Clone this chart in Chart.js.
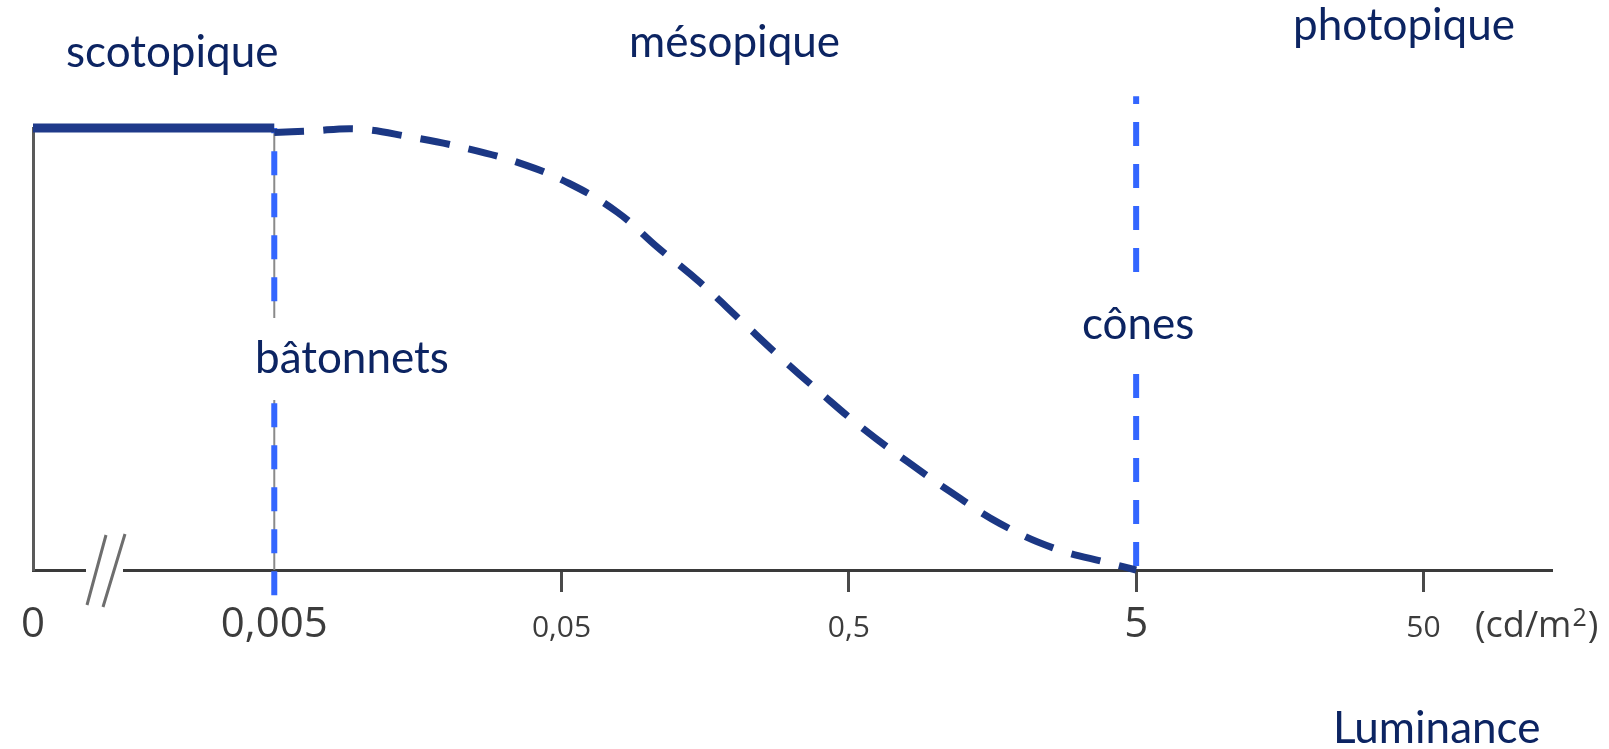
<!DOCTYPE html>
<html>
<head>
<meta charset="utf-8">
<title>Vision scotopique / mésopique / photopique</title>
<script src="https://cdn.jsdelivr.net/npm/chart.js"></script>
<style>
  html, body { margin: 0; padding: 0; background: #ffffff; }
  #visionChart { display: block; }
</style>
</head>
<body>
<canvas id="visionChart" width="1609" height="749"></canvas>
<script>
  // Luminance ticks (cd/m2) - "0" sits after the axis break
  var tickValues = [0, 0.005, 0.05, 0.5, 5, 50];
  var tickLabels = ["0", "0,005", "0,05", "0,5", "5", "50"];
  var tickBig = [true, true, false, false, true, false];

  // where the broken "0" and the end of the axis land on the log scale
  var axisZero = 0.000723;
  var axisMax = 139;

  // scotopic plateau (rods only)
  var scotoLum = [0, 0.005];
  var scotoSens = [1, 1];

  // mesopic curve
  var mesoLum = [0.005, 0.0066, 0.0097, 0.0148, 0.023, 0.036, 0.053, 0.078, 0.108, 0.152,
                 0.21, 0.29, 0.40, 0.56, 0.80, 1.14, 1.68, 2.57, 4.06, 5];
  var mesoSens = [0.99, 0.993, 0.998, 0.98, 0.955, 0.92, 0.875, 0.81, 0.73, 0.65,
                  0.565, 0.48, 0.40, 0.32, 0.245, 0.175, 0.105, 0.05, 0.015, 0];

  // vertical limits: rods (bâtonnets) and cones (cônes)
  var rodsLum = [0.005, 0.005];
  var rodsSens = [-0.057, 1];
  var conesLum = [5, 5];
  var conesSens = [0, 1.072];

  function pts(xs, ys) {
    return xs.map(function (x, i) { return { x: x === 0 ? axisZero : x, y: ys[i] }; });
  }

  var navy = '#0c2462';
  var labelFont = 'Lato, "Noto Sans", sans-serif';
  var tickFont = '"Open Sans", "Noto Sans", sans-serif';

  // text labels (left x, baseline y) and white boxes that cut the dashed lines
  var labels = [
    { text: 'scotopique', x: 66, y: 67 },
    { text: 'mésopique', x: 629, y: 57 },
    { text: 'photopique', x: 1293, y: 40 },
    { text: 'bâtonnets', x: 255, y: 373, box: [318, 400] },
    { text: 'cônes', x: 1082, y: 339, box: [275, 362] },
    { text: 'Luminance', x: 1333, y: 743 }
  ];

  var decorPlugin = {
    id: 'decor',
    afterDatasetsDraw: function (chart) {
      var c = chart.ctx;
      var area = chart.chartArea;
      var xs = chart.scales.x;
      c.save();

      // axis break "//"
      c.fillStyle = '#ffffff';
      c.fillRect(area.left + 53, area.bottom - 4, 37, 8);
      c.strokeStyle = '#6e6e6e';
      c.lineWidth = 3;
      c.beginPath();
      c.moveTo(area.left + 54, area.bottom + 35);
      c.lineTo(area.left + 73, area.bottom - 35);
      c.moveTo(area.left + 70, area.bottom + 37);
      c.lineTo(area.left + 92, area.bottom - 36);
      c.stroke();

      // tick labels, baseline aligned
      c.fillStyle = '#3c3c3c';
      c.textAlign = 'center';
      c.textBaseline = 'alphabetic';
      tickValues.forEach(function (v, i) {
        var px = xs.getPixelForValue(v === 0 ? axisZero : v);
        c.font = (tickBig[i] ? '500 42px ' : '500 30px ') + tickFont;
        c.fillText(tickLabels[i], px, area.bottom + 67);
      });

      // unit
      c.textAlign = 'left';
      c.font = '500 36px ' + tickFont;
      var ux = 1475, uy = area.bottom + 67;
      c.fillText('(cd/m', ux, uy);
      ux += c.measureText('(cd/m').width + 1;
      c.font = '500 25px ' + tickFont;
      c.fillText('2', ux, uy - 11);
      ux += c.measureText('2').width + 1;
      c.font = '500 36px ' + tickFont;
      c.fillText(')', ux, uy);

      // navy labels
      c.font = '44px ' + labelFont;
      labels.forEach(function (l) {
        var w = c.measureText(l.text).width;
        if (l.box) {
          c.fillStyle = '#ffffff';
          c.fillRect(l.x - 6, l.box[0], w + 12, l.box[1] - l.box[0]);
        }
        c.fillStyle = navy;
        c.fillText(l.text, l.x, l.y);
      });
      c.restore();
    }
  };

  var ctx = document.getElementById('visionChart').getContext('2d');
  var myChart = new Chart(ctx, {
    type: 'line',
    data: {
      datasets: [
        {
          label: 'scotopique',
          data: pts(scotoLum, scotoSens),
          borderColor: '#1f3a8a',
          borderWidth: 9,
          borderCapStyle: 'butt',
          pointRadius: 0,
          clip: false
        },
        {
          label: 'mésopique',
          data: pts(mesoLum, mesoSens),
          borderColor: '#1b3784',
          borderWidth: 7,
          borderDash: [30, 19],
          tension: 0.4,
          pointRadius: 0,
          clip: false
        },
        {
          label: 'cônes',
          data: pts(conesLum, conesSens),
          borderColor: '#3366ff',
          borderWidth: 6,
          borderDash: [24, 18],
          borderDashOffset: 38,
          pointRadius: 0,
          clip: false
        },
        {
          label: 'bâtonnets',
          data: pts(rodsLum, rodsSens),
          borderColor: '#3366ff',
          borderWidth: 6,
          borderDash: [24, 18],
          pointRadius: 0,
          clip: false
        },
        {
          label: 'limite',
          data: pts(rodsLum, [0, 1]),
          borderColor: '#8a8a8a',
          borderWidth: 2,
          pointRadius: 0,
          clip: false
        }
      ]
    },
    options: {
      responsive: false,
      animation: false,
      events: [],
      layout: { padding: { left: 33, right: 58, top: 128, bottom: 0 } },
      plugins: {
        legend: { display: false },
        tooltip: { enabled: false }
      },
      scales: {
        x: {
          type: 'logarithmic',
          min: axisZero,
          max: axisMax,
          afterBuildTicks: function (scale) {
            scale.ticks = tickValues.map(function (v) { return { value: v === 0 ? axisZero : v }; });
          },
          afterFit: function (scale) { scale.height = 179; },
          ticks: { display: false },
          grid: {
            drawOnChartArea: false,
            drawTicks: true,
            tickLength: 22,
            lineWidth: 3,
            color: function (c) { return c.index < 2 ? 'rgba(0,0,0,0)' : '#4a4a4a'; }
          },
          border: { display: true, color: '#3a3a3a', width: 3 }
        },
        y: {
          min: 0,
          max: 1,
          afterFit: function (scale) { scale.width = 0; },
          ticks: { display: false },
          grid: { drawOnChartArea: false, drawTicks: false },
          border: { display: true, color: '#5a5a5a', width: 3 }
        }
      }
    },
    plugins: [decorPlugin]
  });
</script>
</body>
</html>
